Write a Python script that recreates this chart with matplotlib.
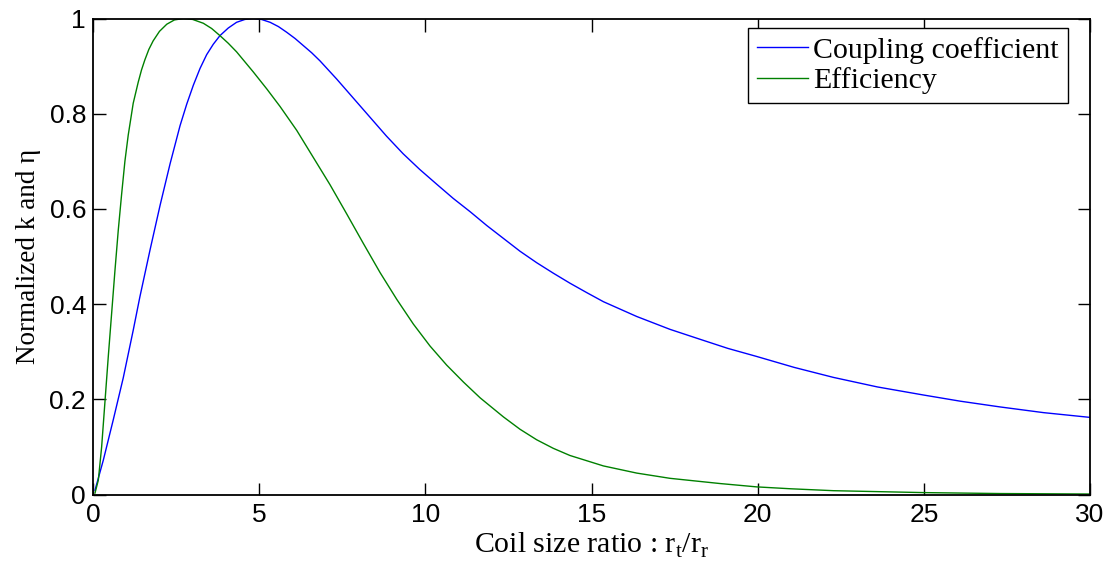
import matplotlib
matplotlib.use("Agg")
import matplotlib.pyplot as plt

# Coupling coefficient (blue)
k_x = [0.06, 0.31, 0.61, 0.91, 1.21, 1.41, 1.72, 2.02, 2.32, 2.62, 2.82, 3.02, 3.22, 3.42,
       3.62, 3.82, 4.07, 4.32, 4.57, 4.82, 5.07, 5.33, 5.58, 5.83, 6.08, 6.33, 6.58, 6.83,
       7.33, 7.83, 8.33, 8.83, 9.33, 9.83, 10.34, 10.84, 11.35, 11.85, 12.35, 12.85, 13.35,
       13.85, 14.35, 14.86, 15.36, 16.36, 17.36, 18.27, 19.1, 19.97, 21.1, 22.28, 23.6,
       24.99, 26.1, 27.29, 28.6, 30.0]
k_y = [0.009, 0.072, 0.157, 0.245, 0.345, 0.415, 0.515, 0.608, 0.695, 0.775, 0.820, 0.860, 0.895, 0.924,
       0.946, 0.964, 0.980, 0.992, 0.998, 1.0, 0.998, 0.992, 0.983, 0.971, 0.958, 0.943, 0.928, 0.911,
       0.873, 0.833, 0.793, 0.753, 0.716, 0.683, 0.652, 0.622, 0.594, 0.565, 0.538, 0.511, 0.487,
       0.465, 0.444, 0.424, 0.405, 0.374, 0.347, 0.326, 0.307, 0.290, 0.267, 0.246, 0.226,
       0.209, 0.196, 0.184, 0.172, 0.162]

# Efficiency (green)
e_x = [0.06, 0.16, 0.26, 0.36, 0.46, 0.56, 0.66, 0.76, 0.86, 0.96, 1.06, 1.21, 1.36, 1.46,
       1.56, 1.68, 1.81, 2.0, 2.22, 2.45, 2.72, 3.0, 3.32, 3.57, 3.82, 4.07, 4.32, 4.82, 5.23,
       5.63, 6.13, 6.63, 7.13, 7.63, 8.13, 8.64, 9.14, 9.64, 10.14, 10.64, 11.15, 11.65, 12.35,
       12.85, 13.35, 13.85, 14.35, 15.36, 16.36, 17.36, 18.87, 19.97, 21.0, 22.28, 24.99,
       27.29, 30.0]
e_y = [0.003, 0.03, 0.10, 0.195, 0.29, 0.38, 0.47, 0.555, 0.63, 0.70, 0.755, 0.822, 0.866, 0.892,
       0.913, 0.935, 0.953, 0.973, 0.988, 0.997, 1.0, 0.998, 0.990, 0.979, 0.964, 0.948, 0.930, 0.888, 0.852,
       0.815, 0.765, 0.708, 0.651, 0.590, 0.528, 0.466, 0.410, 0.358, 0.312, 0.272, 0.236, 0.203, 0.163,
       0.137, 0.115, 0.097, 0.082, 0.060, 0.045, 0.034, 0.023, 0.016, 0.012, 0.008, 0.004,
       0.002, 0.001]

x_ticks = [0, 5, 10, 15, 20, 25, 30]
y_ticks = [0, 0.2, 0.4, 0.6, 0.8, 1.0]
y_tick_labels = ["0", "0.2", "0.4", "0.6", "0.8", "1"]

serif = "Liberation Serif"
sans = "Liberation Sans"

fig = plt.figure(figsize=(11.14, 5.69), dpi=100)
ax = fig.add_axes([93 / 1114, (569 - 494.5) / 569, (1090 - 93) / 1114, (494.5 - 18.5) / 569])

ax.plot(k_x, k_y, color=(0, 0, 1), lw=1.0, label="Coupling coefficient")
ax.plot(e_x, e_y, color=(0, 0.5, 0), lw=1.0, label="Efficiency")

ax.set_xlim(0, 30)
ax.set_ylim(0, 1)
ax.set_xticks(x_ticks)
ax.set_xticklabels([str(t) for t in x_ticks], fontfamily=sans, fontsize=19)
ax.set_yticks(y_ticks)
ax.set_yticklabels(y_tick_labels, fontfamily=sans, fontsize=19)
ax.tick_params(direction="in", length=9, width=1.0, top=True, right=True)
ax.tick_params(axis="x", pad=6)
ax.tick_params(axis="y", pad=5)
for s in ax.spines.values():
    s.set_linewidth(1.3)

ax.set_xlabel(r"Coil size ratio : r$_\mathregular{t}$/r$_\mathregular{r}$",
              fontfamily=serif, fontsize=21.5, labelpad=3)
ax.set_ylabel("Normalized k and η", fontfamily=serif, fontsize=19.5, labelpad=6)

leg = ax.legend(loc="upper right", bbox_to_anchor=(0.978, 0.980),
                prop={"family": serif, "size": 21.5},
                frameon=True, fancybox=False, edgecolor="black", framealpha=1,
                borderaxespad=0.0, handlelength=1.7, handletextpad=0.2,
                labelspacing=0.12, borderpad=0.3)
leg.get_frame().set_linewidth(1.0)

fig.savefig("out.png", dpi=100)
